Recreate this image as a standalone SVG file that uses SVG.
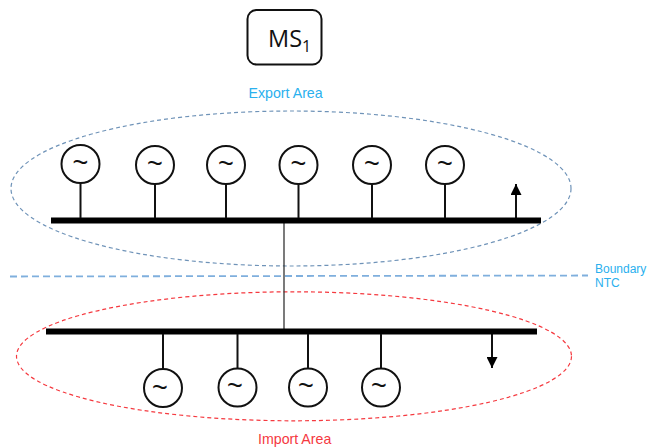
<svg xmlns="http://www.w3.org/2000/svg" width="647" height="447" viewBox="0 0 647 447">
<style>
.t{font-family:"Liberation Sans",Arial,sans-serif}
.lab{font-size:12px;fill:#2ab0ee}
.area{font-size:14.200px}
.gen circle{fill:#fff;stroke:#111;stroke-width:2}
.gen line,.wire{stroke:#111;stroke-width:2;fill:none}
.gen text{font-family:"Liberation Sans",sans-serif;font-size:27px;fill:#111;text-anchor:middle}
.bus{fill:#000}
</style>
<defs>
<marker id="ah" markerUnits="userSpaceOnUse" markerWidth="11" markerHeight="11" refX="10" refY="5" orient="auto" viewBox="0 0 10 10"><path d="M0 0L10 5L0 10Z" fill="#000"/></marker>
</defs>
<g id="ms1"><rect x="247.500" y="10" width="74" height="54.500" rx="9" fill="#fff" stroke="#111" stroke-width="2"/>
<text font-family="Open Sans, sans-serif" x="268" y="46.500" font-size="23.500" fill="#111">MS<tspan font-size="16" dy="5">1</tspan></text></g>
<g id="export-area"><ellipse cx="291" cy="188.500" rx="280" ry="77.500" fill="none" stroke="#6f93b8" stroke-width="1.200" stroke-dasharray="4 3"/>
<text class="t lab area" x="248.500" y="98">Export Area</text></g>
<g id="import-area"><ellipse cx="294" cy="356.300" rx="277.500" ry="64.500" fill="none" stroke="#f5393f" stroke-width="1.200" stroke-dasharray="4 3"/>
<text class="t area" x="258" y="444" fill="#f5393f">Import Area</text></g>
<g id="boundary"><line x1="10" y1="276.500" x2="588" y2="275.500" stroke="#7fafdd" stroke-width="1.800" stroke-dasharray="7 4"/>
<text class="t lab" x="595" y="272.500">Boundary</text><text class="t lab" x="595" y="286.500">NTC</text></g>
<g id="connectors">
<line x1="284" y1="222" x2="284" y2="330" stroke="#333" stroke-width="1.300"/>
<line class="wire" x1="516" y1="218" x2="516" y2="184" marker-end="url(#ah)"/>
<line class="wire" x1="492" y1="333" x2="492" y2="368" marker-end="url(#ah)"/>
</g>
<g id="bus-export"><rect class="bus" x="51" y="217.500" width="490" height="6"/></g>
<g id="bus-import"><rect class="bus" x="46" y="328.500" width="491" height="6"/></g>
<g id="gen-e1" class="gen"><line x1="80.500" y1="183" x2="80.500" y2="218"/><circle cx="80.500" cy="164" r="19"/><text x="80.500" y="172">~</text></g>
<g id="gen-e2" class="gen"><line x1="155" y1="183" x2="155" y2="218"/><circle cx="155" cy="165" r="19"/><text x="155" y="173">~</text></g>
<g id="gen-e3" class="gen"><line x1="226" y1="183" x2="226" y2="218"/><circle cx="226" cy="165" r="19"/><text x="226" y="173">~</text></g>
<g id="gen-e4" class="gen"><line x1="298.500" y1="183" x2="298.500" y2="218"/><circle cx="298.500" cy="165" r="19"/><text x="298.500" y="173">~</text></g>
<g id="gen-e5" class="gen"><line x1="372" y1="183" x2="372" y2="218"/><circle cx="372" cy="165" r="19"/><text x="372" y="173">~</text></g>
<g id="gen-e6" class="gen"><line x1="445" y1="183" x2="445" y2="218"/><circle cx="445" cy="165" r="19"/><text x="445" y="173">~</text></g>
<g id="gen-i1" class="gen"><line x1="163" y1="334" x2="163" y2="369"/><circle cx="163" cy="388" r="19"/><text x="160" y="397">~</text></g>
<g id="gen-i2" class="gen"><line x1="237.500" y1="334" x2="237.500" y2="369"/><circle cx="237.500" cy="387.500" r="19"/><text x="235" y="395">~</text></g>
<g id="gen-i3" class="gen"><line x1="308" y1="334" x2="308" y2="369"/><circle cx="308" cy="387.500" r="19"/><text x="306" y="395">~</text></g>
<g id="gen-i4" class="gen"><line x1="381" y1="334" x2="381" y2="369"/><circle cx="381" cy="387.500" r="19"/><text x="379" y="395">~</text></g>
</svg>
